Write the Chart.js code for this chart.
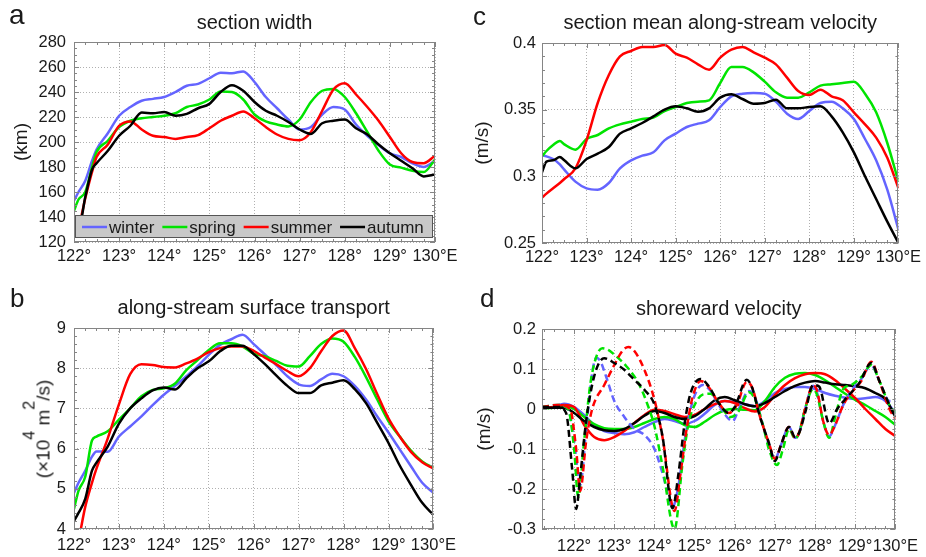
<!DOCTYPE html>
<html>
<head>
<meta charset="utf-8">
<script src="https://cdn.jsdelivr.net/npm/chart.js@4.4.1/dist/chart.umd.min.js"></script>
<style>
  html, body { margin:0; padding:0; background:#fff; }
  #wrap { position:relative; width:926px; height:557px; background:#fff; overflow:hidden;
          font-family:"Liberation Sans", Arial, sans-serif; color:#1a1a1a; }
  canvas { position:absolute; }
  .pl { position:absolute; line-height:1; }
  #ylabB { position:absolute; left:43px; top:429px; transform:translate(-50%,-50%) rotate(-90deg);
           white-space:nowrap; font-size:19px; line-height:19px; }
  #ylabB sup { font-size:16px; line-height:0; vertical-align:0; position:relative; top:-15px; }
</style>
</head>
<body>
<div id="wrap">
  <canvas id="cA" width="463" height="280" style="left:0;top:0"></canvas>
  <canvas id="cC" width="463" height="280" style="left:463px;top:0"></canvas>
  <canvas id="cB" width="463" height="277" style="left:0;top:280px"></canvas>
  <canvas id="cD" width="463" height="277" style="left:463px;top:280px"></canvas>
  <div class="pl" style="left:9px;top:1px;font-size:28px">a</div>
  <div class="pl" style="left:473px;top:3px;font-size:26px">c</div>
  <div class="pl" style="left:10px;top:285px;font-size:26px">b</div>
  <div class="pl" style="left:480px;top:285px;font-size:26px">d</div>
  <div id="ylabB">(×10<sup>4</sup> m<sup>2</sup>/s)</div>
</div>
<script>
// ---------------- data ----------------
const seasons = ['winter', 'spring', 'summer', 'autumn'];

const lonAC = [122,122.1,122.25,122.4,122.5,122.75,123,123.25,123.5,123.75,124,124.25,124.5,124.75,125,125.25,125.5,125.75,126,126.25,126.5,126.75,127,127.25,127.5,127.75,128,128.25,128.5,128.75,129,129.25,129.5,129.75,130];
const lonTicks = [122,123,124,125,126,127,128,129,130];

// (a) section width, km
const widthWinter = [153,160,169,185,194,207,221,228,233,234.5,236,240,245,246.5,251,255.5,255,256.5,248,236,227,218,210,212,222,228,226,214,205,197.5,191,188,183,180,185];
const widthSpring = [145,154,160,180,192,201,212,217,219,220,221,223,228,230,234,240.5,240,234,222,216.5,214,212.5,218,232,241,242.5,236,223,208,193,182,179.5,177,176,186];
const widthSummer = [129,132,155,176,188,198,213,216.5,210,205,204,202.5,204,205.5,211,217,221,224.5,219,212,206,202.5,201.5,208,225,242,247,238,228,217,204,191,184,183,189];
const widthAutumn = [138,130,156,178,183,193,205,213,223.5,223,224,221,222.5,227,230.5,240,245.5,241,232,225,221,216,210,206.5,215,217,218,211,206,198,191,185,179,172.5,174];
const widthTicks = [120,140,160,180,200,220,240,260,280];

// (b) along-stream surface transport, 10^4 m^2/s
const transWinter = [4.9,5.15,5.45,5.8,5.93,5.92,6.3,6.55,6.8,7.08,7.34,7.56,7.8,8.05,8.33,8.58,8.72,8.83,8.6,8.34,8.08,7.8,7.6,7.56,7.72,7.86,7.8,7.56,7.22,6.8,6.4,5.98,5.56,5.15,4.9];
const transSpring = [4.5,4.95,5.3,6.2,6.3,6.43,6.72,7.0,7.3,7.46,7.5,7.62,7.95,8.2,8.45,8.62,8.62,8.54,8.36,8.3,8.18,8.06,8.04,8.3,8.6,8.74,8.66,8.28,7.78,7.22,6.68,6.3,5.95,5.68,5.52];
const transSummer = [3.2,3.7,4.55,5.15,5.5,6.25,7.1,7.85,8.1,8.08,8.03,8.02,8.12,8.24,8.4,8.5,8.54,8.54,8.43,8.26,8.1,7.93,7.8,8.0,8.42,8.8,8.94,8.5,7.98,7.35,6.75,6.3,5.92,5.66,5.5];
const transAutumn = [4.2,4.4,4.75,5.45,5.65,6.05,6.62,7.0,7.25,7.45,7.52,7.47,7.75,8.0,8.17,8.42,8.56,8.56,8.35,8.1,7.82,7.56,7.38,7.38,7.57,7.64,7.7,7.48,7.13,6.64,6.14,5.58,5.1,4.65,4.35];
const transTicks = [4,5,6,7,8,9];

// (c) section mean along-stream velocity, m/s
const velWinter = [0.316,0.315,0.313,0.309,0.305,0.296,0.291,0.29,0.295,0.306,0.312,0.3155,0.318,0.327,0.332,0.337,0.3395,0.342,0.352,0.36,0.362,0.3625,0.362,0.356,0.347,0.343,0.349,0.355,0.356,0.351,0.343,0.328,0.312,0.29,0.26];
const velSpring = [0.315,0.319,0.3235,0.3265,0.324,0.32,0.328,0.331,0.336,0.339,0.341,0.343,0.344,0.349,0.352,0.355,0.356,0.357,0.37,0.382,0.382,0.378,0.371,0.363,0.359,0.359,0.363,0.368,0.369,0.37,0.371,0.362,0.348,0.325,0.296];
const velSummer = [0.284,0.287,0.291,0.295,0.298,0.306,0.327,0.355,0.376,0.39,0.394,0.397,0.397,0.3985,0.392,0.389,0.384,0.38,0.389,0.395,0.397,0.393,0.389,0.384,0.374,0.364,0.361,0.365,0.36,0.357,0.348,0.339,0.329,0.314,0.291];
const velAutumn = [0.303,0.311,0.312,0.3145,0.312,0.306,0.313,0.317,0.322,0.332,0.336,0.34,0.345,0.35,0.3525,0.351,0.3485,0.351,0.359,0.3615,0.358,0.3545,0.355,0.3575,0.351,0.351,0.352,0.3525,0.345,0.333,0.318,0.3,0.283,0.266,0.25];
const velTicks = [0.25,0.3,0.35,0.4];

// (d) shoreward velocity, m/s (solid lines)
const lonD = [121.2,121.5,121.75,122,122.25,122.5,122.75,123,123.25,123.5,123.75,124,124.25,124.5,124.75,125,125.25,125.5,125.75,126,126.25,126.5,126.75,127,127.25,127.5,127.75,128,128.25,128.5,128.75,129,129.25,129.5,129.75,130];
const shoreWinter = [0.003,0.005,0.013,0.005,-0.015,-0.04,-0.055,-0.06,-0.063,-0.058,-0.045,-0.033,-0.025,-0.03,-0.037,-0.03,-0.012,0.01,0.02,0.017,0.012,0.007,0.02,0.04,0.05,0.055,0.055,0.05,0.04,0.033,0.028,0.025,0.027,0.03,0.02,-0.01];
const shoreSpring = [0.002,0.003,0.008,0.0,-0.02,-0.038,-0.048,-0.05,-0.05,-0.045,-0.035,-0.025,-0.02,-0.025,-0.04,-0.045,-0.032,-0.015,-0.003,0.0,-0.002,-0.003,0.02,0.055,0.078,0.088,0.09,0.085,0.072,0.055,0.038,0.023,0.01,-0.005,-0.02,-0.04];
const shoreSummer = [0.003,0.005,0.01,0.005,-0.04,-0.07,-0.078,-0.07,-0.055,-0.035,-0.015,-0.002,-0.005,-0.013,-0.02,-0.015,0.0,0.012,0.02,0.015,0.002,-0.006,0.005,0.035,0.06,0.077,0.087,0.09,0.087,0.072,0.05,0.027,0.0,-0.025,-0.05,-0.068];
const shoreAutumn = [0.003,0.003,0.003,-0.01,-0.03,-0.045,-0.053,-0.055,-0.05,-0.035,-0.017,-0.005,-0.01,-0.02,-0.025,-0.018,0.0,0.022,0.03,0.022,0.012,0.007,0.015,0.03,0.045,0.058,0.066,0.07,0.066,0.062,0.06,0.057,0.052,0.04,0.025,-0.02];
// (d) dashed lines: [longitude, value]
const shoreWinterDash = [[121.2,0.005],[121.6,0.01],[121.85,0.0],[122.0,-0.08],[122.15,-0.19],[122.3,-0.05],[122.45,0.09],[122.55,0.128],[122.65,0.12],[122.8,0.08],[123.0,0.02],[123.25,-0.02],[123.5,-0.05],[123.75,-0.065],[124.0,-0.1],[124.2,-0.16],[124.45,-0.245],[124.6,-0.19],[124.75,-0.08],[124.9,0.0],[125.05,0.045],[125.2,0.06],[125.4,0.045],[125.6,0.01],[125.95,-0.03],[126.1,0.0],[126.35,0.045],[126.5,0.03],[126.7,-0.04],[126.85,-0.09],[127.0,-0.125],[127.15,-0.09],[127.35,-0.045],[127.5,-0.072],[127.6,-0.06],[127.75,0.0],[127.95,0.058],[128.05,0.04],[128.2,-0.03],[128.35,-0.068],[128.5,-0.04],[128.7,0.01],[128.9,0.045],[129.15,0.075],[129.4,0.11],[129.6,0.07],[129.85,0.02],[130.0,0.02]];
const shoreSpringDash = [[121.2,0.005],[121.6,0.01],[121.85,0.0],[122.0,-0.1],[122.1,-0.22],[122.25,-0.08],[122.4,0.06],[122.55,0.13],[122.7,0.152],[122.85,0.148],[123.0,0.136],[123.3,0.107],[123.6,0.065],[123.85,0.005],[124.0,-0.043],[124.2,-0.143],[124.5,-0.3],[124.7,-0.135],[124.85,-0.035],[125.0,0.01],[125.2,0.036],[125.4,0.038],[125.6,0.015],[125.9,-0.02],[126.1,-0.005],[126.35,0.042],[126.5,0.025],[126.7,-0.04],[126.85,-0.1],[127.05,-0.14],[127.2,-0.1],[127.35,-0.05],[127.5,-0.074],[127.6,-0.06],[127.75,0.0],[127.95,0.05],[128.05,0.035],[128.2,-0.03],[128.35,-0.072],[128.5,-0.02],[128.7,0.05],[128.9,0.06],[129.15,0.08],[129.4,0.11],[129.6,0.07],[129.85,0.01],[130.0,-0.01]];
const shoreSummerDash = [[121.2,0.005],[121.6,0.01],[121.9,0.0],[122.05,-0.1],[122.15,-0.205],[122.3,-0.08],[122.45,0.0],[122.75,0.06],[123.0,0.11],[123.2,0.145],[123.35,0.155],[123.5,0.145],[123.75,0.098],[124.0,0.023],[124.2,-0.07],[124.5,-0.255],[124.65,-0.16],[124.8,-0.05],[124.95,0.03],[125.15,0.07],[125.35,0.055],[125.6,0.015],[125.85,-0.01],[126.05,0.01],[126.3,0.068],[126.45,0.05],[126.6,-0.01],[126.85,-0.085],[127.0,-0.125],[127.15,-0.09],[127.35,-0.045],[127.5,-0.072],[127.6,-0.06],[127.75,0.0],[127.95,0.06],[128.05,0.045],[128.2,-0.03],[128.35,-0.065],[128.5,-0.04],[128.7,0.01],[128.9,0.04],[129.15,0.07],[129.4,0.118],[129.6,0.07],[129.85,0.0],[130.0,-0.025]];
const shoreAutumnDash = [[121.2,0.005],[121.6,0.005],[121.8,-0.01],[121.95,-0.15],[122.05,-0.25],[122.15,-0.17],[122.3,-0.03],[122.5,0.082],[122.75,0.127],[123.0,0.115],[123.25,0.098],[123.5,0.073],[123.75,0.048],[124.0,0.011],[124.2,-0.068],[124.45,-0.248],[124.6,-0.16],[124.75,-0.037],[124.9,0.04],[125.15,0.075],[125.35,0.057],[125.6,0.015],[125.85,-0.01],[126.0,0.005],[126.3,0.073],[126.45,0.048],[126.6,-0.01],[126.85,-0.085],[127.0,-0.13],[127.15,-0.09],[127.35,-0.045],[127.5,-0.07],[127.6,-0.06],[127.75,-0.01],[127.95,0.06],[128.1,0.056],[128.35,-0.036],[128.55,0.0],[128.8,0.03],[129.1,0.065],[129.4,0.115],[129.6,0.07],[129.85,0.01],[130.0,-0.02]];
const shoreTicks = [-0.3,-0.2,-0.1,0,0.1,0.2];

// ---------------- style ----------------
const FONT = '"Liberation Sans", Arial, sans-serif';
const TXT = '#1a1a1a';
const colors = { winter:'#6464ff', spring:'#00e400', summer:'#ff0000', autumn:'#000000' };
Chart.defaults.font.family = FONT;
Chart.defaults.color = TXT;

const lonLabel = v => (v === 130 ? '130°E' : v + '°');
const numLabel = v => String(Number(v.toFixed(2)));

const framePlugin = {
  id: 'frameTicks',
  afterDatasetsDraw(chart, args, o) {
    const { ctx, chartArea: a, scales: { x, y } } = chart;
    ctx.save();
    ctx.strokeStyle = '#858585';
    ctx.lineWidth = 1;
    ctx.beginPath();
    const mark = (scale, step, major, horiz) => {
      const start = Math.ceil(scale.min / step - 1e-6);
      for (let i = start; i * step <= scale.max + 1e-9; i++) {
        const v = i * step;
        const r = v / major;
        const isMajor = Math.abs(r - Math.round(r)) < 1e-6;
        const len = isMajor ? 5 : 3;
        const p = Math.round(scale.getPixelForValue(v)) + 0.5;
        if (horiz) {
          ctx.moveTo(p, a.bottom); ctx.lineTo(p, a.bottom - len);
          ctx.moveTo(p, a.top); ctx.lineTo(p, a.top + len);
        } else {
          ctx.moveTo(a.left, p); ctx.lineTo(a.left + len, p);
          ctx.moveTo(a.right, p); ctx.lineTo(a.right - len, p);
        }
      }
    };
    mark(x, o.xMinor, o.xMajor, true);
    mark(y, o.yMinor, o.yMajor, false);
    ctx.stroke();
    ctx.strokeRect(Math.round(a.left) + 0.5, Math.round(a.top) + 0.5,
                   Math.round(a.right - a.left) - 1, Math.round(a.bottom - a.top) - 1);
    ctx.restore();
  }
};

const boxLegendPlugin = {
  id: 'boxLegend',
  afterDraw(chart, args, o) {
    if (!o.show) return;
    const { ctx, chartArea: a } = chart;
    const left = a.left + 1, right = a.right - 2, top = a.bottom - 27, bottom = a.bottom - 4;
    ctx.save();
    ctx.fillStyle = '#c8c8c8';
    ctx.fillRect(left, top, right - left, bottom - top);
    ctx.strokeStyle = '#555';
    ctx.lineWidth = 1;
    ctx.strokeRect(left + 0.5, top + 0.5, right - left - 1, bottom - top - 1);
    ctx.font = '17px ' + FONT;
    ctx.textBaseline = 'middle';
    const yc = (top + bottom) / 2 + 0.5;
    let x = left + 7;
    chart.data.datasets.forEach(ds => {
      ctx.strokeStyle = ds.borderColor;
      ctx.lineWidth = 2.5;
      ctx.beginPath(); ctx.moveTo(x, yc); ctx.lineTo(x + 25, yc); ctx.stroke();
      ctx.fillStyle = TXT;
      ctx.fillText(ds.label, x + 27, yc + 1);
      x += 27 + ctx.measureText(ds.label).width + 8;
    });
    ctx.restore();
  }
};

function solid(label, xs, ys, order) {
  return {
    label, data: xs.map((x, i) => ({ x, y: ys[i] })),
    borderColor: colors[label], backgroundColor: colors[label],
    borderWidth: 2.5, pointRadius: 0, fill: false,
    cubicInterpolationMode: 'monotone', order
  };
}
function dashed(label, pairs, order) {
  return {
    label: label + ' (dashed)', data: pairs.map(p => ({ x: p[0], y: p[1] })),
    borderColor: colors[label], backgroundColor: colors[label],
    borderWidth: 2.5, borderDash: [7, 4], pointRadius: 0, fill: false,
    cubicInterpolationMode: 'monotone', order
  };
}

function makeChart(id, cfg) {
  return new Chart(document.getElementById(id), {
    type: 'line',
    data: { datasets: cfg.datasets },
    plugins: [framePlugin, boxLegendPlugin],
    options: {
      responsive: false, animation: false, events: [],
      layout: { padding: { left: 0, right: cfg.padRight, top: 0, bottom: 0 } },
      plugins: {
        legend: { display: false },
        tooltip: { enabled: false },
        title: { display: true, text: cfg.title, fullSize: false, color: TXT,
                 font: { size: 20, family: FONT, weight: 'normal' },
                 padding: { top: cfg.titleTop, bottom: cfg.titleBottom } },
        frameTicks: cfg.minor,
        boxLegend: { show: !!cfg.legend }
      },
      scales: {
        x: {
          type: 'linear', min: cfg.xMin, max: 130,
          afterBuildTicks: s => { s.ticks = lonTicks.map(v => ({ value: v })); },
          afterFit: s => { s.height = cfg.xHeight; },
          grid: { color: '#b0b0b0', lineWidth: 1, drawTicks: false },
          border: { display: false, dash: [1, 2] },
          ticks: { autoSkip: false, maxRotation: 0, minRotation: 0, padding: cfg.xPad, color: TXT,
                   font: { size: 16.5, family: FONT }, callback: v => lonLabel(v) }
        },
        y: {
          type: 'linear', min: cfg.yTicks[0], max: cfg.yTicks[cfg.yTicks.length - 1],
          afterBuildTicks: s => { s.ticks = cfg.yTicks.map(v => ({ value: v })); },
          afterFit: s => { s.width = cfg.yWidth; },
          grid: { color: '#b0b0b0', lineWidth: 1, drawTicks: false },
          border: { display: false, dash: [1, 2] },
          ticks: { padding: cfg.yPad, color: TXT, font: { size: 16.5, family: FONT },
                   callback: v => numLabel(v) },
          title: { display: !!cfg.yTitle, text: cfg.yTitle || '', color: TXT,
                   font: { size: 19, family: FONT }, padding: { top: cfg.yTitlePad, bottom: 0 } }
        }
      }
    }
  });
}

// (a)
makeChart('cA', {
  title: 'section width', titleTop: 11, titleBottom: 7, padRight: 28,
  xMin: 122, xHeight: 38, xPad: 5, yWidth: 74, yPad: 8,
  yTicks: widthTicks, yTitle: '(km)', yTitlePad: 10,
  minor: { xMinor: 0.25, xMajor: 1, yMinor: 5, yMajor: 20 }, legend: true,
  datasets: [
    solid('winter', lonAC, widthWinter, 3),
    solid('spring', lonAC, widthSpring, 2),
    solid('summer', lonAC, widthSummer, 1),
    solid('autumn', lonAC, widthAutumn, 0)
  ]
});
// (c)
makeChart('cC', {
  title: 'section mean along-stream velocity', titleTop: 11, titleBottom: 8, padRight: 24,
  xMin: 122, xHeight: 37, xPad: 5, yWidth: 79, yPad: 6,
  yTicks: velTicks, yTitle: '(m/s)', yTitlePad: 8,
  minor: { xMinor: 0.25, xMajor: 1, yMinor: 0.01, yMajor: 0.05 },
  datasets: [
    solid('winter', lonAC, velWinter, 3),
    solid('spring', lonAC, velSpring, 2),
    solid('summer', lonAC, velSummer, 1),
    solid('autumn', lonAC, velAutumn, 0)
  ]
});
// (b)
makeChart('cB', {
  title: 'along-stream surface transport', titleTop: 16, titleBottom: 8, padRight: 29,
  xMin: 122, xHeight: 28, xPad: 7, yWidth: 74, yPad: 8,
  yTicks: transTicks, yTitle: '',
  minor: { xMinor: 0.25, xMajor: 1, yMinor: 0.2, yMajor: 1 },
  datasets: [
    solid('winter', lonAC, transWinter, 3),
    solid('spring', lonAC, transSpring, 2),
    solid('summer', lonAC, transSummer, 1),
    solid('autumn', lonAC, transAutumn, 0)
  ]
});
// (d)
makeChart('cD', {
  title: 'shoreward velocity', titleTop: 17, titleBottom: 8, padRight: 25,
  xMin: 121.2, xHeight: 28, xPad: 8, yWidth: 79, yPad: 6,
  yTicks: shoreTicks, yTitle: '(m/s)', yTitlePad: 10,
  minor: { xMinor: 0.25, xMajor: 1, yMinor: 0.025, yMajor: 0.1 },
  datasets: [
    solid('winter', lonD, shoreWinter, 7),
    solid('spring', lonD, shoreSpring, 6),
    solid('summer', lonD, shoreSummer, 5),
    solid('autumn', lonD, shoreAutumn, 4),
    dashed('winter', shoreWinterDash, 3),
    dashed('spring', shoreSpringDash, 2),
    dashed('summer', shoreSummerDash, 1),
    dashed('autumn', shoreAutumnDash, 0)
  ]
});
</script>
</body>
</html>
